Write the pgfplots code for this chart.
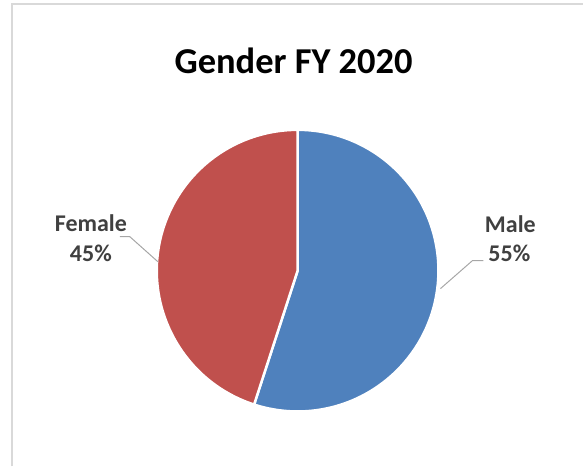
\documentclass[border=0pt]{standalone}
\usepackage{fontspec}
\setmainfont{Carlito}
\usepackage{pgfplots}
\pgfplotsset{compat=1.18}
\usetikzlibrary{calc}
\definecolor{male}{HTML}{4F81BD}
\definecolor{female}{HTML}{C0504D}
\definecolor{lbl}{HTML}{404040}
\definecolor{leadc}{HTML}{A6A6A6}
\definecolor{framec}{HTML}{D9D9D9}
\begin{document}
\begin{tikzpicture}
\def\maleval{55}
\def\femaleval{45}
\pgfmathsetmacro\aEnd{90-3.6*\maleval}
\pgfmathsetmacro\bEnd{\aEnd-3.6*\femaleval}
\begin{axis}[width=584bp,height=467bp,scale only axis,
  xmin=0,xmax=584,ymin=0,ymax=467,hide axis,clip=false]
\path (axis cs:0,0) rectangle (axis cs:584,467);
\draw[framec,line width=1.5bp] (axis cs:12,0) -- (axis cs:12,463) -- (axis cs:584,463);
\filldraw[fill=male,draw=white,line width=2.5bp,line join=round]
  (axis cs:298,196) -- (axis cs:298,337) arc[start angle=90,end angle=\aEnd,radius=141bp] -- cycle;
\filldraw[fill=female,draw=white,line width=2.5bp,line join=round]
  (axis cs:298,196) -- ($(axis cs:298,196)+(\aEnd:141bp)$) arc[start angle=\aEnd,end angle=\bEnd,radius=141bp] -- cycle;
\node[anchor=base,font=\bfseries\fontsize{36.5bp}{44bp}\selectfont] at (axis cs:294,393) {Gender FY 2020};
\draw[leadc,line width=1bp] (axis cs:120,230) -- (axis cs:130,230) -- (axis cs:158,205);
\draw[leadc,line width=1bp] (axis cs:484,206) -- (axis cs:473,206) -- (axis cs:441,178);
\node[anchor=base,text=lbl,font=\bfseries\fontsize{24bp}{29bp}\selectfont] at (axis cs:91,235) {Female};
\node[anchor=base,text=lbl,font=\bfseries\fontsize{24bp}{29bp}\selectfont] at (axis cs:91,205) {45\%};
\node[anchor=base,text=lbl,font=\bfseries\fontsize{24bp}{29bp}\selectfont] at (axis cs:511,234) {Male};
\node[anchor=base,text=lbl,font=\bfseries\fontsize{24bp}{29bp}\selectfont] at (axis cs:510,205) {55\%};
\end{axis}
\end{tikzpicture}
\end{document}
